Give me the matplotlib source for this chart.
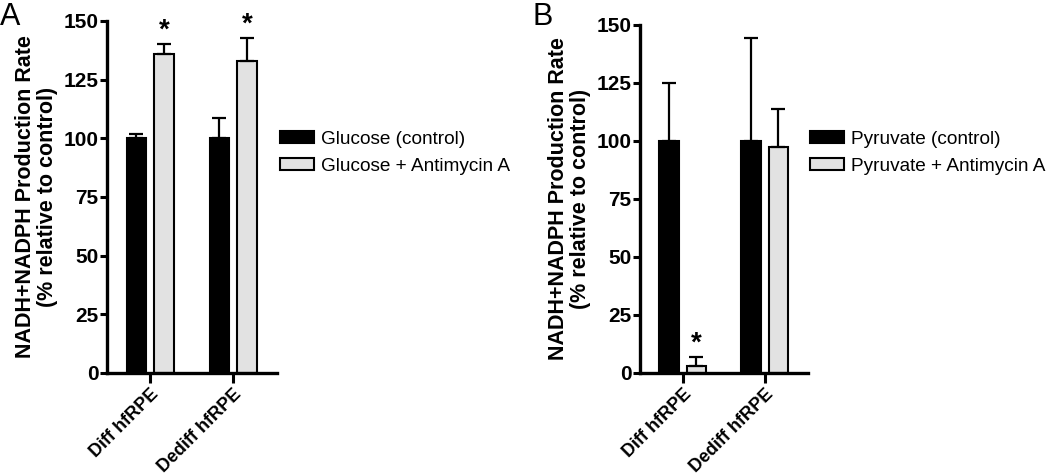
import matplotlib
matplotlib.use("Agg")
import matplotlib.pyplot as plt
import numpy as np

plt.rcParams['font.family'] = ['Liberation Sans', 'DejaVu Sans']

groups = ['Diff hfRPE', 'Dediff hfRPE']

# panel A
glc_ctrl = [100, 100]
glc_ctrl_err = [1.7, 8.6]
glc_anti = [135.8, 132.9]
glc_anti_err = [4.5, 10.0]
glc_labels = ['Glucose (control)', 'Glucose + Antimycin A']
glc_star = [True, True]

# panel B
pyr_ctrl = [100, 100]
pyr_ctrl_err = [24.9, 44.3]
pyr_anti = [3.1, 97.3]
pyr_anti_err = [3.9, 16.5]
pyr_labels = ['Pyruvate (control)', 'Pyruvate + Antimycin A']
pyr_star = [True, False]

W, H = 1050, 476
fig = plt.figure(figsize=(W / 100, H / 100), dpi=100)


def panel(rect, ctrl, ctrl_err, anti, anti_err, labels, stars, letter, leg_xy):
    ax = fig.add_axes(rect)
    x = np.arange(len(groups))
    w = 0.235
    off = 0.166
    ekw = dict(ecolor='black', elinewidth=1.6, capsize=5, capthick=1.6)
    ax.bar(x - off, ctrl, w, color='black', edgecolor='black', linewidth=1.5,
           label=labels[0])
    ax.errorbar(x - off, ctrl, yerr=[np.zeros(len(x)), ctrl_err], fmt='none', **ekw)
    ax.bar(x + off, anti, w, color='#e2e2e2', edgecolor='black', linewidth=1.5,
           label=labels[1])
    ax.errorbar(x + off, anti, yerr=[np.zeros(len(x)), anti_err], fmt='none', **ekw)
    for i, s in enumerate(stars):
        if s:
            ax.annotate('*', (x[i] + off, anti[i] + anti_err[i]), xytext=(0, 0),
                        textcoords='offset points', ha='center', va='bottom',
                        fontsize=20, fontweight='bold')
    ax.set_xlim(-0.52, 1.53)
    ax.set_ylim(0, 150)
    ax.set_yticks([0, 25, 50, 75, 100, 125, 150])
    ax.set_xticks(x)
    ax.set_xticklabels(groups, rotation=45, ha='right', rotation_mode='anchor',
                       fontsize=13, fontweight='bold')
    for t in ax.get_yticklabels():
        t.set_fontweight('bold')
        t.set_fontsize(15)
    ax.tick_params(axis='y', width=2.2, length=5, pad=1)
    ax.tick_params(axis='x', width=2.2, length=7, pad=2)
    for s in ['top', 'right']:
        ax.spines[s].set_visible(False)
    for s in ['left', 'bottom']:
        ax.spines[s].set_linewidth(2.4)
    ax.set_ylabel('NADH+NADPH Production Rate\n(% relative to control)',
                  fontsize=15.5, fontweight='bold', labelpad=4, linespacing=1.1)
    ax.legend(loc='upper left', bbox_to_anchor=leg_xy, bbox_transform=fig.transFigure,
              frameon=False, fontsize=13.7, handlelength=1.8, handleheight=0.6,
              handletextpad=0.35, labelspacing=0.5, borderaxespad=0, borderpad=0)
    fig.text(rect[0] - 0.102, 1 - 2 / H, letter, fontsize=22, ha='left', va='top')
    return ax


panel([107 / W, 1 - 373 / H, 170 / W, (373 - 21) / H], glc_ctrl, glc_ctrl_err,
      glc_anti, glc_anti_err, glc_labels, glc_star, 'A', (280 / W, 1 - 131 / H))
panel([640 / W, 1 - 373 / H, 168 / W, (373 - 25) / H], pyr_ctrl, pyr_ctrl_err,
      pyr_anti, pyr_anti_err, pyr_labels, pyr_star, 'B', (810 / W, 1 - 131 / H))

fig.savefig('out.png', dpi=100)
